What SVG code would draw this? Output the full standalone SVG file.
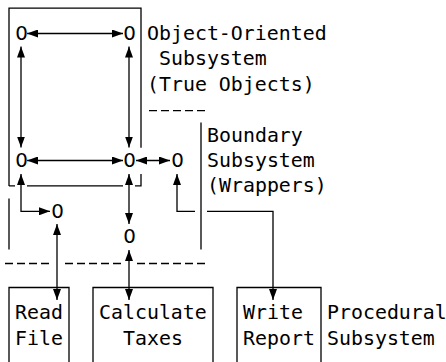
<svg xmlns="http://www.w3.org/2000/svg" width="446" height="362" viewBox="0 0 446 362">
<defs>
<style>
.t{font-family:"DejaVu Sans Mono","Liberation Mono",monospace;font-size:19.9px;fill:#000}
.z{font-family:"DejaVu Sans","Liberation Sans",sans-serif;font-size:19.9px;fill:#000;text-anchor:middle}
.ln{stroke:#000;stroke-width:1.3;fill:none}
.ar{marker-start:url(#ah);marker-end:url(#ah)}
.d{stroke-dasharray:8 4}
</style>
<marker id="ah" markerUnits="userSpaceOnUse" markerWidth="11" markerHeight="8" refX="11" refY="4" orient="auto-start-reverse" viewBox="0 0 11 8">
<path d="M0,0 L11,4 L0,8 z" fill="#000"/>
</marker>
</defs>
<rect width="446" height="362" fill="#fff"/>

<g id="oo-subsystem">
<path class="ln" d="M9,185.9 V8.1 H141 V147.8 M141,173.9 V185.9 H135 M123,185.9 H27 M15,185.9 H9"/>
<text class="t" x="147" y="40">Object-Oriented</text>
<text class="t" x="159" y="65.4">Subsystem</text>
<text class="t" x="147" y="90.8">(True Objects)</text>
</g>

<g id="boundary-subsystem">
<path class="ln" d="M201,122.4 V249.4 M9,198.6 V249.4"/>
<text class="t" x="207" y="141.6">Boundary</text>
<text class="t" x="207" y="167">Subsystem</text>
<text class="t" x="207" y="192.4">(Wrappers)</text>
</g>

<g id="separators">
<path class="ln d" d="M149,110.7 H205"/>
<path class="ln d" d="M5,263.5 H49 M65,263.5 H121 M137,263.5 H205"/>
</g>

<g id="obj-1"><text class="z" x="21.5" y="40">0</text></g>
<g id="obj-2"><text class="z" x="129.5" y="40">0</text></g>
<g id="obj-3"><text class="z" x="21.5" y="167">0</text></g>
<g id="obj-4"><text class="z" x="129.5" y="167">0</text></g>
<g id="wrap-1"><text class="z" x="177.5" y="167">0</text></g>
<g id="wrap-2"><text class="z" x="57.5" y="217.8">0</text></g>
<g id="wrap-3"><text class="z" x="129.5" y="243.2">0</text></g>

<g id="read-file">
<path class="ln" d="M9,362 V287.5 H69 V362"/>
<text class="t" x="15" y="319.4">Read</text>
<text class="t" x="15" y="344.8">File</text>
</g>

<g id="calculate-taxes">
<path class="ln" d="M93,362 V287.5 H213 V362"/>
<text class="t" x="99" y="319.4">Calculate</text>
<text class="t" x="123" y="344.8">Taxes</text>
</g>

<g id="write-report">
<path class="ln" d="M237,362 V287.5 H321 V362"/>
<text class="t" x="243" y="319.4">Write</text>
<text class="t" x="243" y="344.8">Report</text>
</g>

<g id="procedural-subsystem">
<text class="t" x="327" y="319.4">Procedural</text>
<text class="t" x="327" y="344.8">Subsystem</text>
</g>

<g id="connectors">
<path class="ln ar" d="M27,33.5 H123"/>
<path class="ln ar" d="M21,46.5 V147.5"/>
<path class="ln ar" d="M129,46.5 V147.5"/>
<path class="ln ar" d="M27,160.5 H123"/>
<path class="ln ar" d="M136,160.5 H170"/>
<path class="ln ar" d="M21,174 V211.3 H50"/>
<path class="ln ar" d="M129,174 V224"/>
<path class="ln ar" d="M177,174 V211.3 H195 M207,211.3 H273 V300"/>
<path class="ln ar" d="M57,224 V300"/>
<path class="ln ar" d="M129,250 V300"/>
</g>
</svg>
